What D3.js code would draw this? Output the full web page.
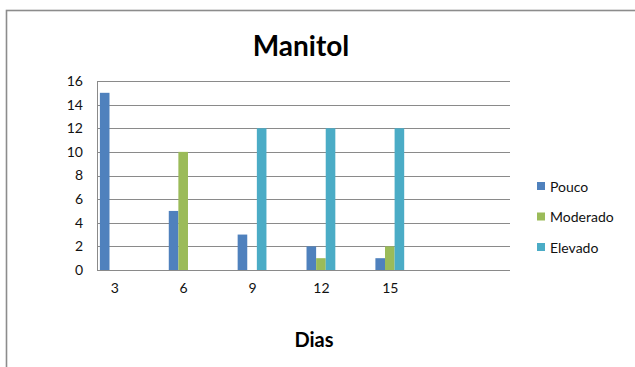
<!DOCTYPE html>
<html>
<head>
<meta charset="utf-8">
<script src="https://cdn.jsdelivr.net/npm/d3@7"></script>
<style>
  html, body { margin: 0; padding: 0; background: #fff; }
  svg { display: block; }
  text { font-family: Lato, "Open Sans", "Liberation Sans", sans-serif; }
</style>
</head>
<body>
<svg id="chart" width="635" height="367"></svg>
<script>
// Days sampled
const dias = ["3", "6", "9", "12", "15"];
// Counts per intensity level
const pouco = [15, 5, 3, 2, 1];
const moderado = [0, 10, 0, 1, 2];
const elevado = [0, 0, 12, 12, 12];
const seriesNames = ["Pouco", "Moderado", "Elevado"];
const seriesColors = ["#4F81BD", "#9BBB59", "#4BACC6"];
const yTicks = [0, 2, 4, 6, 8, 10, 12, 14, 16];

const seriesValues = [pouco, moderado, elevado];

const svg = d3.select("#chart");

// Outer chart frame
svg.append("rect")
  .attr("x", 6.5).attr("y", 10.5)
  .attr("width", 700).attr("height", 400)
  .attr("fill", "none")
  .attr("stroke", "#8c8c8c")
  .attr("stroke-width", 1.6);

const plot = { left: 97, right: 510, top: 81, bottom: 270 };

const y = d3.scaleLinear().domain([0, 16]).range([plot.bottom, plot.top]);

// Group centres along the category axis
const x = d3.scalePoint().domain(dias).range([114.3, 389.8]);
const barW = 9.6;
const inner = d3.scaleBand().domain(seriesNames)
  .range([-barW * 1.5, barW * 1.5]).padding(0);

// Horizontal gridlines
svg.append("g")
  .selectAll("line")
  .data(yTicks)
  .join("line")
  .attr("x1", plot.left).attr("x2", plot.right)
  .attr("y1", d => Math.round(y(d)) + 0.5)
  .attr("y2", d => Math.round(y(d)) + 0.5)
  .attr("stroke", "#8a8a8a")
  .attr("stroke-width", 1);

// Vertical axis line
svg.append("line")
  .attr("x1", plot.left + 0.5).attr("x2", plot.left + 0.5)
  .attr("y1", plot.top).attr("y2", plot.bottom)
  .attr("stroke", "#8a8a8a");

// Y axis labels
const yAxis = d3.axisLeft(y).tickValues(yTicks).tickSize(0).tickPadding(14);
const gy = svg.append("g")
  .attr("transform", `translate(${plot.left},0)`)
  .call(yAxis);
gy.select(".domain").remove();
gy.selectAll("text")
  .attr("font-size", 14)
  .attr("fill", "#111")
  .style("font-family", "Lato, 'Open Sans', sans-serif");

// X axis labels
const xAxis = d3.axisBottom(x).tickSize(0).tickPadding(13);
const gx = svg.append("g")
  .attr("transform", `translate(0,${plot.bottom})`)
  .call(xAxis);
gx.select(".domain").remove();
gx.selectAll("text")
  .attr("font-size", 14)
  .attr("fill", "#111")
  .style("font-family", "Lato, 'Open Sans', sans-serif");

// Bars
seriesNames.forEach((name, si) => {
  svg.append("g")
    .selectAll("rect")
    .data(dias.map((d, i) => ({ dia: d, v: seriesValues[si][i] })))
    .join("rect")
    .attr("x", d => x(d.dia) + inner(name))
    .attr("y", d => y(d.v))
    .attr("width", inner.bandwidth())
    .attr("height", d => y(0) - y(d.v))
    .attr("fill", seriesColors[si]);
});

// Title
svg.append("text")
  .attr("x", 301).attr("y", 56)
  .attr("text-anchor", "middle")
  .attr("font-size", 28)
  .attr("font-weight", "bold")
  .attr("fill", "#000")
  .text("Manitol");

// Axis title
svg.append("text")
  .attr("x", 314).attr("y", 347)
  .attr("text-anchor", "middle")
  .attr("font-size", 20)
  .attr("font-weight", "bold")
  .attr("fill", "#000")
  .text("Dias");

// Legend
const legend = svg.append("g");
seriesNames.forEach((name, i) => {
  const ly = 187 + i * 30.5;
  legend.append("rect")
    .attr("x", 537).attr("y", ly - 5)
    .attr("width", 8).attr("height", 8)
    .attr("fill", seriesColors[i]);
  legend.append("text")
    .attr("x", 550).attr("y", ly)
    .attr("dy", "0.35em")
    .attr("font-size", 14)
    .attr("fill", "#111")
    .text(name);
});
</script>
</body>
</html>
